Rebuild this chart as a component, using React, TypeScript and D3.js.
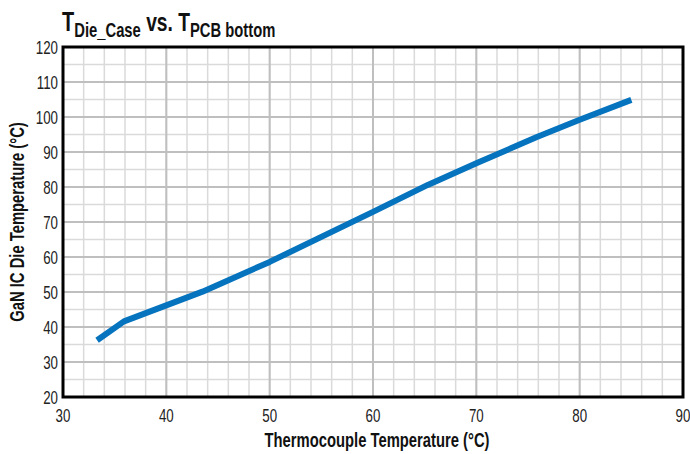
import React from "react";
import * as d3 from "d3";

const xValues = [33.3, 35.9, 43.5, 50, 60, 65.3, 70, 75.8, 80, 85];
const yValues = [36.2, 41.6, 50.1, 58.6, 72.9, 80.6, 86.8, 94.2, 99.2, 104.9];
const xTicks = [30, 40, 50, 60, 70, 80, 90];
const yTicks = [20, 30, 40, 50, 60, 70, 80, 90, 100, 110, 120];

const FONT = "'Liberation Sans', Arial, sans-serif";

function CT(props: {
  x: number;
  y: number;
  sx?: number;
  rotate?: number;
  anchor?: string;
  size: number;
  bold?: boolean;
  children: React.ReactNode;
  fill?: string;
}) {
  const { x, y, sx = 0.74, rotate = 0, anchor = "start", size, bold, children, fill = "#222" } = props;
  return (
    <g transform={`translate(${x},${y}) rotate(${rotate}) scale(${sx},1)`}>
      <text x={0} y={0} textAnchor={anchor as any} fontFamily={FONT} fontSize={size} fontWeight={bold ? "bold" : "normal"} fill={fill}>
        {children}
      </text>
    </g>
  );
}

export default function App() {
  const W = 690, H = 454;
  const left = 63, right = 683, top = 47, bottom = 397;
  const x = d3.scaleLinear().domain([30, 90]).range([left, right]);
  const y = d3.scaleLinear().domain([20, 120]).range([bottom, top]);
  const minorX = d3.range(30, 90.01, 2);
  const minorY = d3.range(20, 120.01, 5);
  const line = d3.line<number>().x((d, i) => x(xValues[i])).y((d) => y(d));
  return (
    <svg width={W} height={H} style={{ position: "absolute", left: 0, top: 0, background: "#fff" }}>
      <rect width={W} height={H} fill="#fff" />
      {minorX.map((v) => (
        <line key={"mx" + v} x1={x(v)} x2={x(v)} y1={top} y2={bottom} stroke="#dadada" strokeWidth={1.5} />
      ))}
      {minorY.map((v) => (
        <line key={"my" + v} x1={left} x2={right} y1={y(v)} y2={y(v)} stroke="#dadada" strokeWidth={1.5} />
      ))}
      {xTicks.map((v) => (
        <line key={"Mx" + v} x1={x(v)} x2={x(v)} y1={top} y2={bottom} stroke="#bfbfbf" strokeWidth={2} />
      ))}
      {yTicks.map((v) => (
        <line key={"My" + v} x1={left} x2={right} y1={y(v)} y2={y(v)} stroke="#bfbfbf" strokeWidth={2} />
      ))}
      <rect x={left} y={top} width={right - left} height={bottom - top} fill="none" stroke="#000" strokeWidth={3} />
      <path d={line(yValues) || ""} fill="none" stroke="#0573bd" strokeWidth={6} strokeLinejoin="round" />
      {xTicks.map((v) => (
        <CT key={"xt" + v} x={x(v)} y={bottom + 25} anchor="middle" size={18}>
          {v}
        </CT>
      ))}
      {yTicks.map((v) => (
        <CT key={"yt" + v} x={left - 5} y={y(v) + 6.5} anchor="end" size={18}>
          {v}
        </CT>
      ))}
      <CT x={(left + right) / 2 + 4} y={447} anchor="middle" size={20} sx={0.74} bold fill="#111">
        Thermocouple Temperature (°C)
      </CT>
      <CT x={24} y={(top + bottom) / 2} rotate={-90} anchor="middle" size={20} sx={0.74} bold fill="#111">
        GaN IC Die Temperature (°C)
      </CT>
      <g transform="translate(62,31) scale(0.74,1)">
        <text x={0} y={0} fontFamily={FONT} fontWeight="bold" fill="#111">
          <tspan fontSize={27}>T</tspan>
          <tspan fontSize={20} dy={6}>Die_Case</tspan>
          <tspan fontSize={26} dy={-6}> vs. T</tspan>
          <tspan fontSize={20} dy={6}>PCB bottom</tspan>
        </text>
      </g>
    </svg>
  );
}
